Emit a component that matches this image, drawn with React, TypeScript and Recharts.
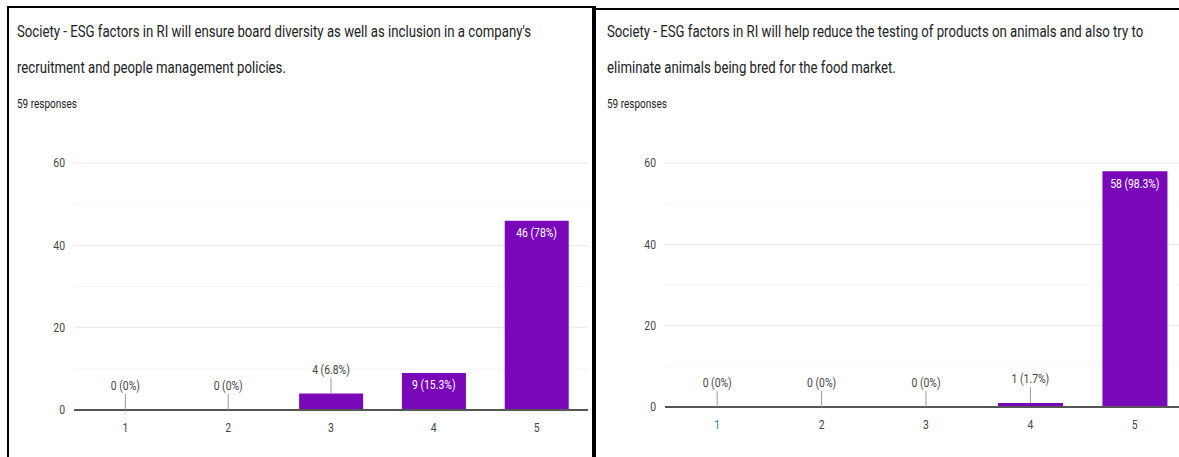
import React from 'react'
import { Bar, BarChart, CartesianGrid, LabelList, Line, XAxis, YAxis } from 'recharts'

const categories = ['1', '2', '3', '4', '5']
const diversityCounts = [0, 0, 4, 9, 46]
const animalCounts = [0, 0, 0, 1, 58]
const yTicks = [0, 20, 40, 60]
const minorTicks = [10, 30, 50]

const diversityTitle = [
  "Society - ESG factors in RI will ensure board diversity as well as inclusion in a company's",
  'recruitment and people management policies.',
]
const animalTitle = [
  'Society - ESG factors in RI will help reduce the testing of products on animals and also try to',
  'eliminate animals being bred for the food market.',
]
const responsesText = '59 responses'

const PURPLE = '#7808b8'
const FONT = 'Roboto, "Noto Sans", sans-serif'
const SQUEEZE = 0.8
const CHART_H = 317
const XAXIS_H = 30

const squeeze = (x: number, y: number) => `translate(${x},${y}) scale(${SQUEEZE},1) translate(${-x},${-y})`

const pct = (v: number, total: number) => {
  const p = (v / total) * 100
  return `${v} (${parseFloat(p.toFixed(1))}%)`
}

const YTick = ({ x, y, payload }: any) => (
  <text x={x} y={y} textAnchor="end" dominantBaseline="central" fontSize={13} fill="#444" fontFamily={FONT} transform={squeeze(x, y)}>
    {payload.value}
  </text>
)

const makeXTick = (firstColor: string) => ({ x, y, payload, index }: any) => (
  <text x={x} y={y} textAnchor="middle" dominantBaseline="central" fontSize={13} fill={index === 0 ? firstColor : '#444'} fontFamily={FONT} transform={squeeze(x, y)}>
    {payload.value}
  </text>
)

// labels sit on an invisible line so the zero bars get one too
const makeLabel = (total: number, baseline: number) => (props: any) => {
  const { x, y, value } = props
  const cx = Number(x)
  const top = Number(y)
  const text = pct(Number(value), total)
  if (baseline - top > 25) {
    return (
      <text x={cx} y={top + 12} textAnchor="middle" dominantBaseline="central" fontSize={13} fill="#fff" fontFamily={FONT} transform={squeeze(cx, top + 12)}>
        {text}
      </text>
    )
  }
  return (
    <g>
      <line x1={cx} x2={cx} y1={top - 16} y2={top} stroke="#9a9a9a" strokeWidth={1} />
      <text x={cx} y={top - 24} textAnchor="middle" dominantBaseline="central" fontSize={13} fill="#444" fontFamily={FONT} transform={squeeze(cx, top - 24)}>
        {text}
      </text>
    </g>
  )
}

function SurveyChart({ counts, width, margin, firstTickColor }: any) {
  const total = counts.reduce((a: number, b: number) => a + b, 0)
  const data = categories.map((c, i) => ({ answer: c, count: counts[i] }))
  const baseline = CHART_H - margin.bottom - XAXIS_H
  return (
    <BarChart width={width} height={CHART_H} data={data} margin={margin} barCategoryGap="19%">
      <CartesianGrid vertical={false} stroke="#f5f5f5" horizontalValues={minorTicks} />
      <CartesianGrid vertical={false} stroke="#e9e9e9" />
      <XAxis dataKey="answer" height={XAXIS_H} tickSize={0} tickMargin={18} axisLine={{ stroke: '#555', strokeWidth: 2 }} tick={makeXTick(firstTickColor)} />
      <YAxis domain={[0, 60]} ticks={yTicks} width={74} tickSize={0} tickMargin={9} axisLine={false} tick={<YTick />} />
      <Bar dataKey="count" fill={PURPLE} isAnimationActive={false} />
      <Line dataKey="count" stroke="none" dot={false} activeDot={false} isAnimationActive={false}>
        <LabelList dataKey="count" content={makeLabel(total, baseline)} />
      </Line>
    </BarChart>
  )
}

function Titles({ lines, left }: { lines: string[], left: number }) {
  const line = (t: string, top: number, size: number) => (
    <div key={t} style={{ position: 'absolute', left, top, fontSize: size, lineHeight: '20px', whiteSpace: 'nowrap', color: '#202124', fontFamily: FONT, transform: `scaleX(${SQUEEZE})`, transformOrigin: 'left center' }}>
      {t}
    </div>
  )
  return (
    <>
      {line(lines[0], 22, 16.5)}
      {line(lines[1], 58, 16.5)}
      {line(responsesText, 94, 12.5)}
    </>
  )
}

export default function App() {
  return (
    <div style={{ position: 'fixed', left: 0, top: 0, width: 1179, height: 457, overflow: 'hidden', background: '#fff' }}>
      <Titles lines={diversityTitle} left={17} />
      <Titles lines={animalTitle} left={607} />
      <div style={{ position: 'absolute', left: 0, top: 140 }}>
        <SurveyChart counts={diversityCounts} width={592} margin={{ top: 23, right: 4, left: 0, bottom: 17 }} firstTickColor="#444" />
      </div>
      <div style={{ position: 'absolute', left: 591, top: 140 }}>
        <SurveyChart counts={animalCounts} width={600} margin={{ top: 23, right: 4, left: 0, bottom: 20 }} firstTickColor="#3a78c4" />
      </div>
      <div style={{ position: 'absolute', left: 7, top: 6, width: 587, height: 2, background: '#000' }} />
      <div style={{ position: 'absolute', left: 7, top: 6, width: 2, height: 451, background: '#000' }} />
      <div style={{ position: 'absolute', left: 592, top: 6, width: 4, height: 451, background: '#000' }} />
      <div style={{ position: 'absolute', left: 594, top: 8, width: 585, height: 2, background: '#000' }} />
    </div>
  )
}
